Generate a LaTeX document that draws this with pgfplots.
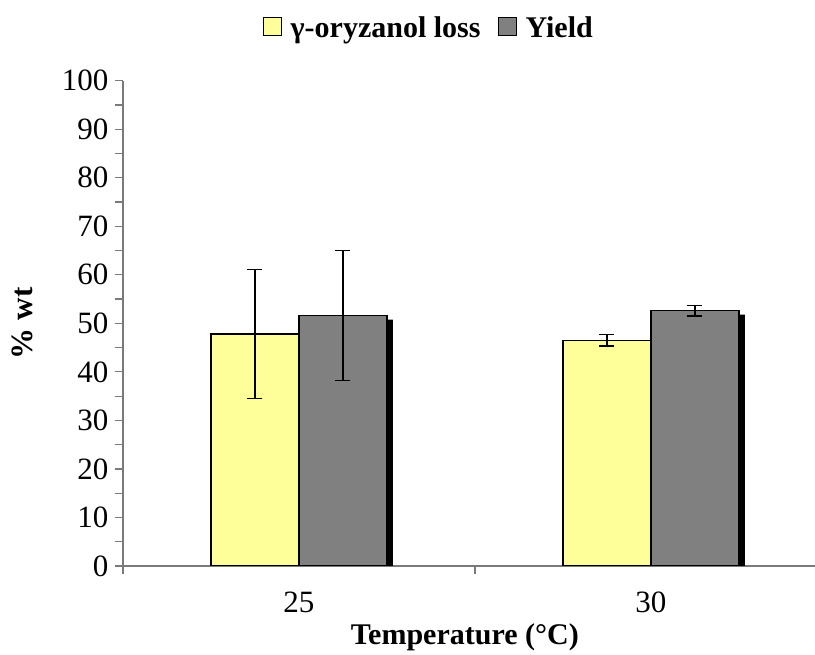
\documentclass[border=0pt]{standalone}
\usepackage{fontspec}
\setmainfont{Liberation Serif}
\usepackage{pgfplots}
\pgfplotsset{compat=1.18}
\definecolor{lossyellow}{HTML}{FFFF99}
\definecolor{yieldgray}{HTML}{808080}
\definecolor{axisgray}{HTML}{7A7A7A}

\begin{document}
\begin{tikzpicture}[font=\fontsize{31}{36}\selectfont]
\begin{axis}[
  scale only axis, width=692pt, height=485.3pt,
  xmin=-0.5, xmax=1.466, ymin=0, ymax=100,
  axis x line=bottom, axis y line=left,
  axis line style={-, draw=axisgray, line width=1.2pt},
  ytick={0,10,...,100}, minor ytick={5,15,...,95},
  tick align=outside, major tick length=8pt, minor tick length=8pt,
  every tick/.style={draw=axisgray, line width=1.2pt},
  yticklabel style={xshift=-3pt},
  xtick={-0.5,0.5}, xticklabels={},
  extra x ticks={0,1}, extra x tick labels={25,30},
  extra x tick style={major tick length=0pt, tick label style={yshift=-22pt}},
  /pgf/number format/assume math mode=true,
  ylabel={\textbf{\% wt}}, xlabel={\textbf{Temperature (°C)}},
  ylabel style={at={(axis description cs:-0.146,0.5)}, anchor=center,
    font=\fontsize{31}{36}\selectfont},
  xlabel style={at={(axis description cs:0.494,-0.146)}, anchor=center,
    font=\fontsize{30}{35}\selectfont},
  legend style={at={(0.444,1.109)}, anchor=center, draw=none, fill=none,
    font=\fontsize{30}{35}\selectfont\bfseries,
    nodes={inner xsep=5pt},
    /tikz/every even column/.append style={column sep=12pt}},
  legend columns=2,
  legend image code/.code={\draw[#1, draw=black, line width=1pt] (0pt,-8pt) rectangle (18pt,10pt);},
]
% drop shadows behind the bars
\addplot[ybar, bar width=88pt, bar shift=0pt, fill=black, draw=none,
  xshift=-38pt, yshift=-4pt, forget plot] coordinates {(0,47.8) (1,46.5)};
\addplot[ybar, bar width=88pt, bar shift=0pt, fill=black, draw=none,
  xshift=50pt, yshift=-4pt, forget plot] coordinates {(0,51.6) (1,52.6)};
% gamma-oryzanol loss
\addplot[ybar, bar width=88pt, bar shift=0pt, xshift=-44pt,
  fill=lossyellow, draw=black, line width=1.5pt,
  error bars/.cd, y dir=both, y explicit,
  error bar style={line width=1.5pt, black},
  error mark options={rotate=90, mark size=7.5pt, line width=1.5pt, black}]
  coordinates {(0,47.8) +- (0,13.3) (1,46.5) +- (0,1.15)};
\addlegendentry{\hspace{4pt}γ-oryzanol loss}
% yield
\addplot[ybar, bar width=88pt, bar shift=0pt, xshift=44pt,
  fill=yieldgray, draw=black, line width=1.5pt,
  error bars/.cd, y dir=both, y explicit,
  error bar style={line width=1.5pt, black},
  error mark options={rotate=90, mark size=7.5pt, line width=1.5pt, black}]
  coordinates {(0,51.6) +- (0,13.4) (1,52.6) +- (0,1.1)};
\addlegendentry{\hspace{4pt}Yield}
\coordinate (ll) at (rel axis cs:0,0);
\coordinate (ur) at (rel axis cs:1,1);
\end{axis}
\pgfresetboundingbox
\path[use as bounding box] ([shift={(-123pt,-89pt)}]ll) rectangle ([shift={(0pt,80.7pt)}]ur);
\end{tikzpicture}
\end{document}
